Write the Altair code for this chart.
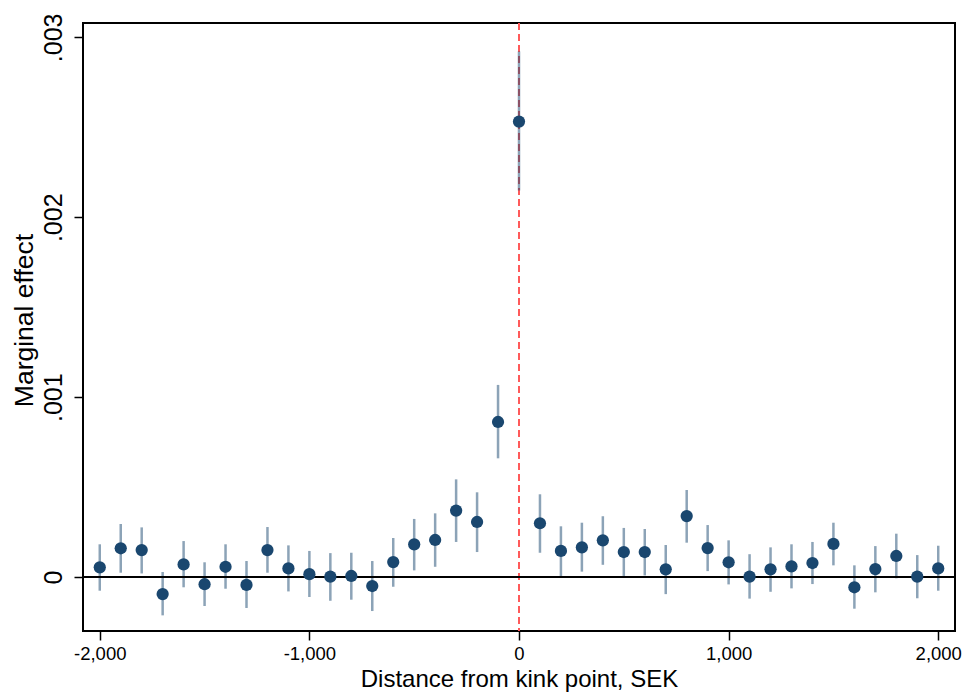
import altair as alt
import pandas as pd

# Distance bins from the kink point (SEK)
distance = list(range(-2000, 2001, 100))

# Point estimates of the marginal effect for each bin
estimate = [
    0.000054, 0.000160, 0.000150, -0.000095, 0.000070, -0.000040, 0.000057, -0.000044,
    0.000150, 0.000048, 0.000016, 0.000002, 0.000006, -0.000050, 0.000083, 0.000182,
    0.000206, 0.000369, 0.000306, 0.000862, 0.002532, 0.000299, 0.000145, 0.000165,
    0.000204, 0.000139, 0.000139, 0.000043, 0.000339, 0.000161, 0.000082, 0.000002,
    0.000043, 0.000059, 0.000078, 0.000184, -0.000057, 0.000044, 0.000117, 0.000002,
    0.000048,
]

# Confidence interval bounds
ci_low = [
    -0.000076, 0.000024, 0.000020, -0.000213, -0.000057, -0.000161, -0.000065, -0.000172,
    0.000024, -0.000080, -0.000111, -0.000132, -0.000126, -0.000189, -0.000054, 0.000037,
    0.000057, 0.000195, 0.000139, 0.000660, 0.002149, 0.000135, 0.000002, 0.000030,
    0.000068, 0.000006, 0.000009, -0.000095, 0.000191, 0.000033, -0.000041, -0.000120,
    -0.000082, -0.000063, -0.000039, 0.000065, -0.000176, -0.000085, -0.000007, -0.000118,
    -0.000076,
]
ci_high = [
    0.000182, 0.000295, 0.000276, 0.000028, 0.000200, 0.000082, 0.000182, 0.000089,
    0.000278, 0.000176, 0.000145, 0.000133, 0.000135, 0.000089, 0.000217, 0.000323,
    0.000354, 0.000543, 0.000471, 0.001068, 0.002922, 0.000460, 0.000282, 0.000302,
    0.000338, 0.000273, 0.000267, 0.000178, 0.000484, 0.000289, 0.000204, 0.000127,
    0.000165, 0.000182, 0.000195, 0.000302, 0.000065, 0.000172, 0.000241, 0.000122,
    0.000174,
]

x_ticks = [-2000, -1000, 0, 1000, 2000]
y_ticks = [0, 0.001, 0.002, 0.003]

df = pd.DataFrame({"d": distance, "b": estimate, "lo": ci_low, "hi": ci_high})

NAVY = "#1a476f"
FONT = "Liberation Sans"
X_DOMAIN = [-2080, 2080]

x_enc = alt.X(
    "d:Q",
    scale=alt.Scale(domain=X_DOMAIN, nice=False, zero=False),
    axis=alt.Axis(
        values=x_ticks,
        labelExpr="(datum.value < 0 ? '-' : '') + format(abs(datum.value), ',d')",
        title="Distance from kink point, SEK",
        grid=False, domain=False, tickColor="black", tickWidth=1.5, tickSize=9,
        labelFontSize=18.5, labelColor="black", labelFont=FONT, labelPadding=4,
        titleFontSize=24, titleFont=FONT, titleFontWeight="normal", titleColor="black",
        titlePadding=5,
    ),
)
y_scale = alt.Scale(domain=[-0.0003, 0.00308], nice=False, zero=False)
y_axis = alt.Axis(
    values=y_ticks,
    labelExpr="datum.value == 0 ? '0' : replace(format(datum.value, '.3f'), '0.', '.')",
    title="Marginal effect", grid=False, domain=False,
    tickColor="black", tickWidth=1.5, tickSize=9,
    labelAngle=-90, labelAlign="center", labelBaseline="bottom",
    labelFontSize=25, labelColor="black", labelFont=FONT, labelPadding=8,
    titleFontSize=26.5, titleFont=FONT, titleFontWeight="normal", titleColor="black",
    titlePadding=3, titleY=297,
)

base = alt.Chart(df)

ci = base.mark_rule(color=NAVY, opacity=0.5, strokeWidth=2.5).encode(
    x=x_enc,
    y=alt.Y("lo:Q", scale=y_scale, axis=y_axis),
    y2="hi:Q",
)

zero_line = alt.Chart(pd.DataFrame({"y": [0]})).mark_rule(
    color="black", strokeWidth=2
).encode(y=alt.Y("y:Q", scale=y_scale))

kink_line = alt.Chart(pd.DataFrame({"x": [0]})).mark_rule(
    color="#ff5a5a", strokeWidth=2, strokeDash=[7, 4]
).encode(x=alt.X("x:Q", scale=alt.Scale(domain=X_DOMAIN, nice=False, zero=False)))

points = base.mark_circle(color=NAVY, opacity=1, size=150).encode(
    x="d:Q",
    y=alt.Y("b:Q", scale=y_scale),
)

chart = (
    alt.layer(kink_line, ci, zero_line, points)
    .properties(
        width=872, height=608,
        autosize=alt.AutoSizeParams(type="none"),
        padding={"left": 83, "top": 23, "right": 10, "bottom": 61},
        background="white",
    )
    .configure_view(stroke="black", strokeWidth=2)
)

chart.save("out.html", embed_options={"renderer": "svg", "actions": False})
